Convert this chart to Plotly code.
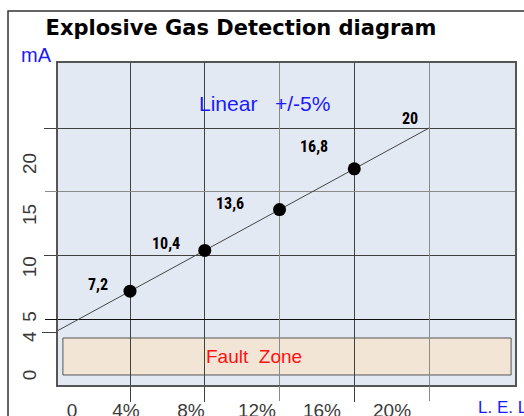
import plotly.graph_objects as go

# ---- data ----
LEL_PCT = [0, 4, 8, 12, 16, 20]
CURRENT_MA = [4, 7.2, 10.4, 13.6, 16.8, 20]
POINT_LABELS = ["7,2", "10,4", "13,6", "16,8", "20"]

X_GRID_DARK = [4, 8, 16]
X_GRID_LIGHT = [12, 20]
X_LABEL_POS = [0.9, 3.78, 7.26, 10.79, 14.27, 18.02]
X_LABEL_TEXT = ["0", "4%", "8%", "12%", "16%", "20%"]

Y_GRID_DARK = [10, 20]
Y_GRID_LIGHT = [15]
Y_GRID_BLACK = [5]
Y_LABEL_POS = [0.4, 3.4, 5.0, 8.9, 13.0, 17.0]
Y_LABEL_TEXT = ["0", "4", "5", "10", "15", "20"]
Y_START_TICK = [4]

FAULT_LO, FAULT_HI = 0.63, 3.53
FAULT_X0, FAULT_X1 = 0.41, 24.39

X_RANGE = [0.147, 24.60]
Y_RANGE = [-0.157, 25.1]

DARK = "#404040"
LIGHT = "#8a8a8a"
BLACK = "#111111"
TICK_FONT = dict(family="Liberation Sans, Arial, sans-serif", size=19, color="#3a3a3a")
BLUE = "#1a1aff"

fig = go.Figure()

# characteristic line
fig.add_trace(go.Scatter(
    x=LEL_PCT, y=CURRENT_MA, mode="lines",
    line=dict(color="#444444", width=1),
    hoverinfo="skip", showlegend=False))

# measured points (without end point)
fig.add_trace(go.Scatter(
    x=LEL_PCT[1:5], y=CURRENT_MA[1:5], mode="markers",
    marker=dict(color="black", size=13),
    hoverinfo="skip", showlegend=False))

# empty traces to activate overlay axes
for xa, ya in [("x2", "y2"), ("x", "y3"), ("x3", "y"), ("x", "y4"), ("x", "y5")]:
    fig.add_trace(go.Scatter(x=[None], y=[None], xaxis=xa, yaxis=ya,
                             showlegend=False, hoverinfo="skip"))

# point labels
shifts = [(-32, 7), (-39, 7), (-50, 6), (-40, 22), (-19, 10)]
for xv, yv, txt, (dx, dy) in zip(LEL_PCT[1:], CURRENT_MA[1:], POINT_LABELS, shifts):
    fig.add_annotation(
        x=xv, y=yv, text=f"<b>{txt}</b>", showarrow=False,
        xshift=dx, yshift=dy,
        font=dict(family="Liberation Sans Narrow, Arial Narrow, Roboto Condensed, sans-serif",
                  size=16, color="black"))

# Fault zone box
fig.add_shape(type="rect", x0=FAULT_X0, x1=FAULT_X1, y0=FAULT_LO, y1=FAULT_HI,
              xref="x", yref="y", layer="below",
              fillcolor="#f3e5d5", line=dict(color="#555555", width=1))
fig.add_annotation(x=10.63, y=(FAULT_LO + FAULT_HI) / 2, text="Fault  Zone",
                   showarrow=False,
                   font=dict(family="Liberation Sans, Arial, sans-serif", size=19, color="#ff1010"))

fig.add_annotation(x=11.17, y=21.9, text="Linear   +/-5%", showarrow=False,
                   font=dict(family="Liberation Sans, Arial, sans-serif", size=21, color=BLUE))

fig.add_annotation(xref="paper", yref="paper", x=-0.046, y=1.025, text="mA",
                   showarrow=False, xanchor="center", yanchor="middle",
                   font=dict(family="Liberation Sans, Arial, sans-serif", size=20, color=BLUE))
fig.add_annotation(xref="paper", yref="paper", x=0.9147, y=-0.0714, text="L. E. L",
                   showarrow=False, xanchor="left", yanchor="middle",
                   font=dict(family="Liberation Sans, Arial, sans-serif", size=17, color=BLUE))

# outer frame
fig.add_shape(type="rect", xref="paper", yref="paper",
              x0=-0.1094, x1=1.3, y0=-0.3, y1=1.1615,
              line=dict(color="#333333", width=1.5), fillcolor="rgba(0,0,0,0)")


def grid_axis(vals, color, ticklen, **kw):
    d = dict(tickvals=vals, showticklabels=False,
             ticks="outside", ticklen=ticklen, tickcolor=color, tickwidth=1,
             showgrid=True, gridcolor=color, gridwidth=1,
             zeroline=False, fixedrange=True, automargin=False)
    d.update(kw)
    return d


fig.update_layout(
    width=524, height=416, autosize=False,
    margin=dict(l=58, r=9, t=63, b=31, pad=0, autoexpand=False),
    paper_bgcolor="white", plot_bgcolor="#e3e9f2",
    title=dict(text="<b>Explosive Gas Detection diagram</b>",
               x=241 / 524, xanchor="center", y=1 - 28 / 416, yanchor="middle",
               automargin=False,
               font=dict(family="DejaVu Sans, Verdana, sans-serif", size=21, color="black")),
    xaxis=grid_axis(X_GRID_DARK, DARK, 15, range=X_RANGE,
                    showline=True, linecolor="#555555", linewidth=2, mirror=True),
    xaxis3=grid_axis(X_GRID_LIGHT, LIGHT, 15, range=X_RANGE, overlaying="x",
                     side="bottom", showline=False),
    xaxis2=dict(range=X_RANGE, overlaying="x", side="bottom",
                tickvals=X_LABEL_POS, ticktext=X_LABEL_TEXT, ticks="",
                showgrid=False, showline=False, zeroline=False,
                tickfont=TICK_FONT, ticklabelstandoff=12, fixedrange=True,
                automargin=False),
    yaxis=grid_axis(Y_GRID_DARK, DARK, 12, range=Y_RANGE,
                    showline=True, linecolor="#555555", linewidth=2, mirror=True),
    yaxis4=grid_axis(Y_GRID_LIGHT, LIGHT, 12, range=Y_RANGE, overlaying="y",
                     side="left", showline=False),
    yaxis5=grid_axis(Y_GRID_BLACK, BLACK, 12, range=Y_RANGE, overlaying="y",
                     side="left", showline=False),
    yaxis3=grid_axis(Y_START_TICK, DARK, 15, range=Y_RANGE, overlaying="y",
                     side="left", showline=False, showgrid=False),
    yaxis2=dict(range=Y_RANGE, overlaying="y", side="left",
                tickvals=Y_LABEL_POS, ticktext=Y_LABEL_TEXT, ticks="",
                tickangle=-90, showgrid=False, showline=False, zeroline=False,
                tickfont=TICK_FONT, ticklabelstandoff=17, fixedrange=True,
                automargin=False),
    showlegend=False,
)

fig.write_html("out.html",
               config={"displayModeBar": False},
               post_script="document.body.style.margin='0';document.body.style.padding='0';")
